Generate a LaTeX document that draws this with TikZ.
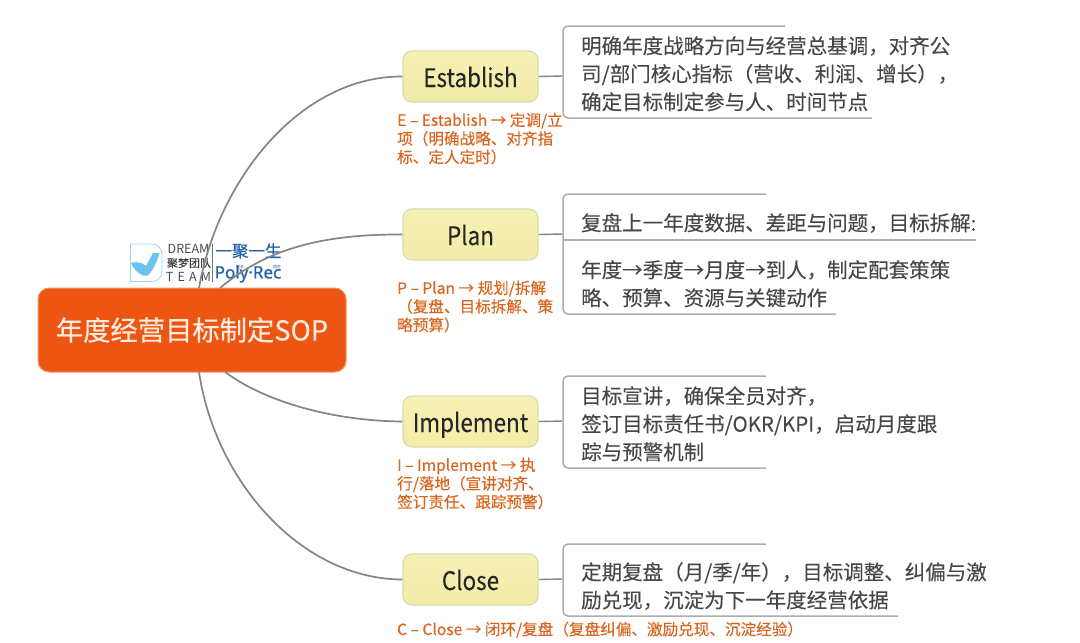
\documentclass[tikz,border=0pt]{standalone}
\usepackage{fontspec}
\setmainfont{Noto Sans CJK SC}
\newfontfamily\cjkmed[FakeBold=0.2]{Noto Sans CJK SC}
\newfontfamily\cjkdet[FakeBold=0.08]{Noto Sans CJK SC}
\newfontfamily\cjkstep[FakeBold=0.08,FakeStretch=0.88]{Noto Sans CJK SC}
\newfontfamily\cjkbold[FakeBold=0.5]{Noto Sans CJK SC}
\newfontfamily\latboxfont[FakeBold=0.6]{Noto Sans}
\begin{document}
\begin{tikzpicture}[x=1pt,y=-1pt,
  linkline/.style={draw=black!48,line width=1.7pt},
  brack/.style={draw=black!32,line width=1.5pt,rounded corners=5pt},
  rootbox/.style={draw=rootedge,line width=1pt,rounded corners=11pt,fill=rootfill,minimum width=308pt,minimum height=84pt,inner sep=0pt,text=rootink,font=\cjkbold\fontsize{27.3}{30}\selectfont},
  stepbox/.style={draw=boxedge,line width=1.2pt,rounded corners=9pt,top color=boxtop,bottom color=boxbot,minimum width=135pt,minimum height=51pt,inner sep=0pt,text height=22pt,text depth=1pt,text=black!85,font=\cjkstep\fontsize{25.5}{28}\selectfont},
  detail/.style={anchor=north west,inner sep=0pt,align=left,text=black!72,font=\cjkdet\fontsize{20.5}{28}\selectfont},
  note/.style={anchor=north west,inner sep=0pt,align=left,text=noteink,font=\cjkmed\fontsize{15.6}{18.5}\selectfont},
]
\definecolor{rootfill}{HTML}{EC5512}
\definecolor{rootedge}{HTML}{F79A5E}
\definecolor{rootink}{HTML}{FFEBDD}
\definecolor{boxedge}{HTML}{DADBB4}
\definecolor{boxtop}{HTML}{F6F1B4}
\definecolor{boxbot}{HTML}{F3ECA8}
\definecolor{noteink}{HTML}{D9651F}
\definecolor{logoblue}{HTML}{6CC4EC}
\definecolor{polyblue}{HTML}{1F5FAE}
\useasboundingbox (0,0) rectangle (1080,643);
\fill[white] (0,0) rectangle (1080,643);

% logo
\draw[draw=logoblue!70,line width=0.8pt,fill=white] (130.5,244) -- (151,244) .. controls (158,244) and (162,248) .. (162,256) -- (162,270) .. controls (162,278) and (158,281.5) .. (151,281.5) -- (130.5,281.5) -- cycle;
\fill[logoblue] (131,263) .. controls (138,261) and (143,263) .. (146,266) -- (153,253) -- (159.5,253) .. controls (157,262) and (153,270) .. (148,275.5) -- (143,275.5) .. controls (137,273) and (133,268) .. (131,263) -- cycle;
\node[inner sep=0pt,text=black!70,font=\fontsize{12.5}{13}\selectfont] (logoa) at (188.5,248.5) {DREAM};
\node[inner sep=0pt,text=black!75,font=\cjkdet\fontsize{11}{11}\selectfont] (logob) at (189,263) {聚梦团队};
\node[inner sep=0pt,text=black!70,font=\fontsize{12.5}{13}\selectfont] (logoc) at (188.5,277) {T\,\,E\,\,A\,\,M};
\draw[black!55,line width=0.5pt] (212,244) -- (212,282);
\node[inner sep=0pt,text=polyblue,font=\cjkbold\fontsize{16.5}{17}\selectfont] (logod) at (248.5,251) {一聚一生};
\node[inner sep=0pt,text=polyblue,font=\latboxfont\fontsize{17}{17}\selectfont] (logoe) at (248,274) {Poly·Rec};
\node[inner sep=0pt,text=polyblue,font=\fontsize{4}{4}\selectfont] (logof) at (240,266.5) {聚合};
\node[inner sep=0pt,text=polyblue,font=\fontsize{4}{4}\selectfont] (logog) at (277,266.5) {再生};

% nodes
\node[rootbox] (root) at (192,330) {年度经营目标制定SOP};
\node[stepbox] (est) at (470.5,76.5) {Establish};
\node[stepbox] (pla) at (470.5,234.5) {Plan};
\node[stepbox] (imp) at (470.5,421.5) {Implement};
\node[stepbox] (clo) at (470.5,579.5) {Close};

% roots of curves
\coordinate (ra) at (199,288);
\coordinate (rb) at (220,288);
\coordinate (rc) at (225,372);
\coordinate (rd) at (199,372);
\draw[linkline] (ra) .. controls (218,180) and (300,76) .. (est.west);
\draw[linkline] (rb) .. controls (265,250) and (320,234) .. (pla.west);
\draw[linkline] (rc) .. controls (270,405) and (340,421) .. (imp.west);
\draw[linkline] (rd) .. controls (215,480) and (300,579) .. (clo.west);

% brackets
\coordinate (ea) at (563,76);
\coordinate (pa) at (563,234);
\coordinate (ia) at (563,421);
\coordinate (ca) at (563,579);
\draw[linkline,line width=1.4pt] (est.east) -- (ea);
\draw[linkline,line width=1.4pt] (pla.east) -- (pa);
\draw[linkline,line width=1.4pt] (imp.east) -- (ia);
\draw[linkline,line width=1.4pt] (clo.east) -- (ca);
\draw[brack] (785,26) -- (563,26) -- (563,118) -- (872,118);
\draw[brack] (766,194) -- (563,194) -- (563,314) -- (836,314);
\draw[brack] (563,240) -- (976,240);
\draw[brack] (766,376) -- (563,376) -- (563,468) -- (766,468);
\draw[brack] (766,544) -- (563,544) -- (563,616) -- (898,616);

% detail text
\node[detail] (te) at (581,36) {明确年度战略方向与经营总基调，对齐公\\司/部门核心指标（营收、利润、增长），\\确定目标制定参与人、时间节点};
\node[detail] (tpa) at (581,213) {复盘上一年度数据、差距与问题，目标拆解:};
\node[detail] (tpb) at (581,260) {年度→季度→月度→到人，制定配套策策\\略、预算、资源与关键动作};
\node[detail] (ti) at (581,386) {目标宣讲，确保全员对齐，\\签订目标责任书/OKR/KPI，启动月度跟\\踪与预警机制};
\node[detail] (tc) at (581,562) {定期复盘（月/季/年），目标调整、纠偏与激\\励兑现，沉淀为下一年度经营依据};

% notes
\node[note] (ne) at (397,112.5) {E – Establish → 定调/立\\项（明确战略、对齐指\\标、定人定时）};
\node[note] (np) at (397,280.5) {P – Plan → 规划/拆解\\（复盘、目标拆解、策\\略预算）};
\node[note] (ni) at (397,457.5) {I – Implement → 执\\行/落地（宣讲对齐、\\签订责任、跟踪预警）};
\node[note] (nc) at (397,621.5) {C – Close → 闭环/复盘（复盘纠偏、激励兑现、沉淀经验）};
\end{tikzpicture}
\end{document}
